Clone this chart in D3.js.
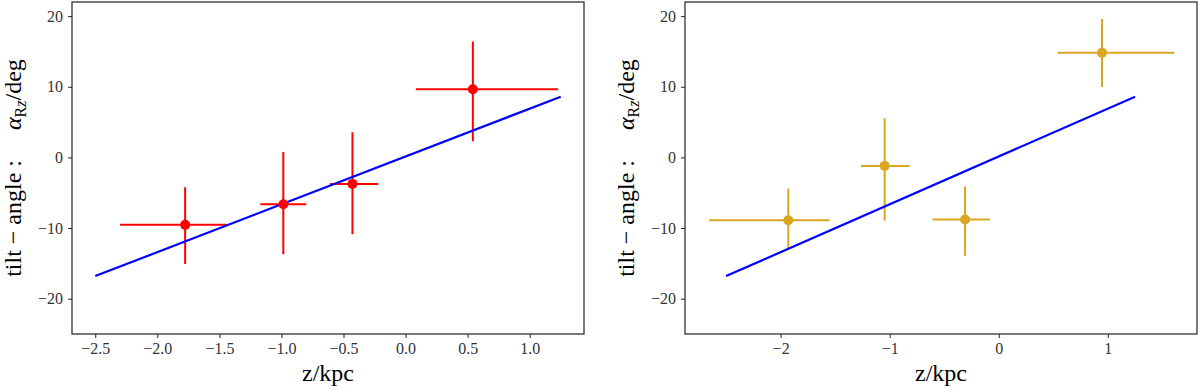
<!DOCTYPE html>
<meta charset="utf-8">
<html>
<head>
<style>
  body { margin: 0; background: #fff; }
  svg text { font-family: "Liberation Serif", "DejaVu Serif", serif; }
</style>
</head>
<body>
<div id="chart"></div>
<script src="https://d3js.org/d3.v7.min.js"></script>
<script>
// fitted tilt line (same on both panels)
var lineZ = [-2.5, 1.25]
var lineA = [-16.8, 8.6]

// left panel points (red)
var leftZ   = [-1.776, -0.985, -0.428, 0.542]
var leftZLo = [-2.30, -1.17, -0.61, 0.083]
var leftZHi = [-1.44, -0.80, -0.22, 1.228]
var leftA   = [-9.55, -6.63, -3.75, 9.65]
var leftALo = [-15.1, -13.7, -10.87, 2.29]
var leftAHi = [-4.22, 0.78, 3.56, 16.4]

// right panel points (gold)
var rightZ   = [-1.93, -1.046, -0.309, 0.947]
var rightZLo = [-2.656, -1.263, -0.607, 0.540]
var rightZHi = [-1.551, -0.818, -0.081, 1.611]
var rightA   = [-8.89, -1.20, -8.80, 14.83]
var rightALo = [-13.0, -8.94, -13.94, 9.98]
var rightAHi = [-4.41, 5.54, -4.13, 19.6]

var leftTicks  = [-2.5, -2.0, -1.5, -1.0, -0.5, 0.0, 0.5, 1.0]
var rightTicks = [-2, -1, 0, 1]
var yTicks     = [-20, -10, 0, 10, 20]

var W = 1200, H = 391
var svg = d3.select("#chart").append("svg")
  .attr("width", W).attr("height", H)

function minus(s) { return s.replace("-", "\u2212\u2009") }

var panels = [
  { left: 72, xlim: [-2.6875, 1.4375], ticks: leftTicks, fmt: d3.format(".1f"), color: "#ff0000",
    z: leftZ, zlo: leftZLo, zhi: leftZHi, a: leftA, alo: leftALo, ahi: leftAHi },
  { left: 685, xlim: [-2.877, 1.818], ticks: rightTicks, fmt: d3.format("d"), color: "#DAA520",
    z: rightZ, zlo: rightZLo, zhi: rightZHi, a: rightA, alo: rightALo, ahi: rightAHi }
]

var plotTop = 2, plotBottom = 334, pw = 512

panels.forEach(function(p) {
  var x = d3.scaleLinear().domain(p.xlim).range([p.left, p.left + pw])
  var y = d3.scaleLinear().domain([-25, 22]).range([plotBottom, plotTop])

  // axes
  var xa = svg.append("g")
    .attr("transform", "translate(0," + plotBottom + ")")
    .call(d3.axisBottom(x).tickValues(p.ticks).tickSize(4).tickPadding(5)
      .tickFormat(function(d) { return minus(p.fmt(d)) }))
  var ya = svg.append("g")
    .attr("transform", "translate(" + p.left + ",0)")
    .call(d3.axisLeft(y).tickValues(yTicks).tickSize(4).tickPadding(5)
      .tickFormat(function(d) { return minus(d3.format("d")(d)) }))
  ;[xa, ya].forEach(function(a) {
    a.select(".domain").remove()
    a.selectAll("line").attr("stroke", "#222")
    a.selectAll("text").style("font-size", "16px").attr("fill", "#333")
      .style("font-family", "'Liberation Serif', serif")
  })

  // frame
  svg.append("rect")
    .attr("x", p.left).attr("y", plotTop)
    .attr("width", pw).attr("height", plotBottom - plotTop)
    .attr("fill", "none").attr("stroke", "#222").attr("stroke-width", 1.2)

  var idx = d3.range(p.z.length)
  var g = svg.append("g")

  // error bars
  g.selectAll(".xerr").data(idx).enter().append("line")
    .attr("x1", function(i) { return x(p.zlo[i]) })
    .attr("x2", function(i) { return x(p.zhi[i]) })
    .attr("y1", function(i) { return y(p.a[i]) })
    .attr("y2", function(i) { return y(p.a[i]) })
    .attr("stroke", p.color).attr("stroke-width", 2)
  g.selectAll(".yerr").data(idx).enter().append("line")
    .attr("x1", function(i) { return x(p.z[i]) })
    .attr("x2", function(i) { return x(p.z[i]) })
    .attr("y1", function(i) { return y(p.alo[i]) })
    .attr("y2", function(i) { return y(p.ahi[i]) })
    .attr("stroke", p.color).attr("stroke-width", 2)

  // fit line
  svg.append("path")
    .datum(d3.range(lineZ.length))
    .attr("d", d3.line().x(function(i) { return x(lineZ[i]) }).y(function(i) { return y(lineA[i]) }))
    .attr("fill", "none").attr("stroke", "#0000ff").attr("stroke-width", 2.2)

  // points
  svg.selectAll(null).data(idx).enter().append("circle")
    .attr("cx", function(i) { return x(p.z[i]) })
    .attr("cy", function(i) { return y(p.a[i]) })
    .attr("r", 5)
    .attr("fill", p.color)

  // labels
  svg.append("text")
    .attr("x", p.left + pw / 2).attr("y", 381)
    .attr("text-anchor", "middle")
    .style("font-size", "24px")
    .text("z/kpc")

  var yl = svg.append("text")
    .attr("transform", "translate(" + (p.left - 51) + "," + ((plotTop + plotBottom) / 2) + ") rotate(-90)")
    .attr("text-anchor", "middle")
    .style("font-size", "24px")
  yl.append("tspan").text("tilt \u2212 angle :\u2003 ")
  yl.append("tspan").style("font-style", "italic").text("\u03b1")
  yl.append("tspan").attr("dy", 5).style("font-size", "16px").text("R")
  yl.append("tspan").style("font-size", "16px").style("font-style", "italic").text("z")
  yl.append("tspan").attr("dy", -5).text("/deg")
})
</script>
</body>
</html>
